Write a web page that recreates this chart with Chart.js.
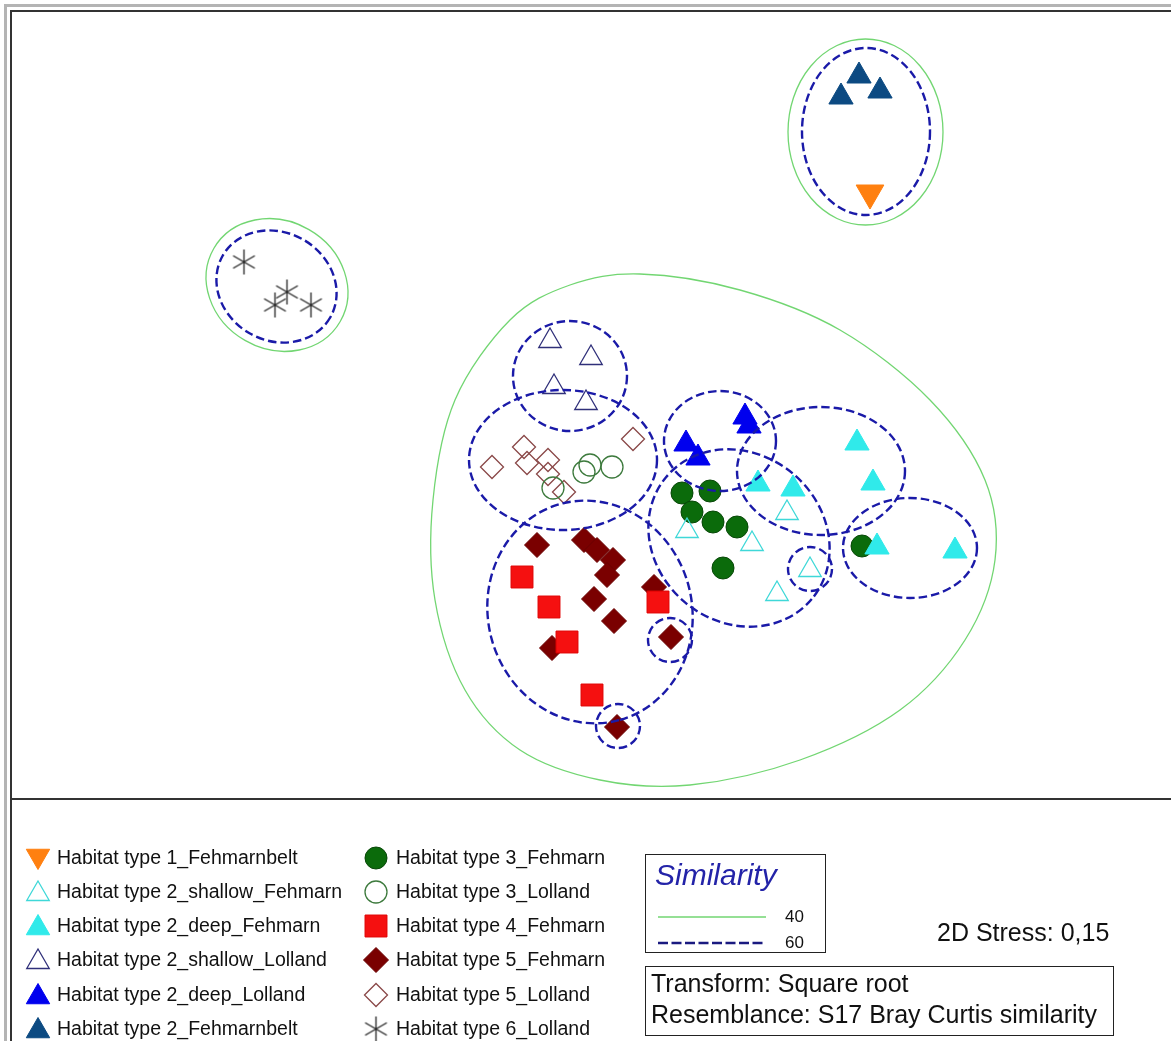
<!DOCTYPE html>
<html>
<head>
<meta charset="utf-8">
<script src="https://cdn.jsdelivr.net/npm/chart.js@4.4.0/dist/chart.umd.min.js"></script>
<style>
  html, body { margin: 0; padding: 0; background: #fff; overflow: hidden; }
  canvas { display: block; }
</style>
</head>
<body>
<canvas id="mds" width="1171" height="1041"></canvas>
<script>
// nMDS ordination of benthic samples (two MDS dimensions, unitless)
const ht1Fehmarnbelt = [[2.70, 2.57]];
const ht2ShallowFehmarn = [[0.87, -0.81], [1.52, -0.94], [1.87, -0.63], [2.10, -1.20], [1.77, -1.44]];
const ht2DeepFehmarn = [[1.58, -0.34], [1.93, -0.39], [2.57, 0.07], [2.73, -0.33], [2.77, -0.97], [3.55, -1.01]];
const ht2ShallowLolland = [[-0.50, 1.09], [-0.09, 0.92], [-0.46, 0.63], [-0.14, 0.47]];
const ht2DeepLolland = [[0.86, 0.06], [0.98, -0.08], [1.45, 0.33], [1.49, 0.24]];
const ht2Fehmarnbelt = [[2.59, 3.74], [2.41, 3.53], [2.80, 3.59]];
const ht3Fehmarn = [[0.82, -0.43], [1.10, -0.41], [0.92, -0.62], [1.13, -0.72], [1.37, -0.77], [1.23, -1.18], [2.62, -0.96]];
const ht3Lolland = [[-0.47, -0.38], [-0.16, -0.22], [-0.10, -0.15], [0.12, -0.17]];
const ht4Fehmarn = [[-0.78, -1.27], [-0.51, -1.57], [-0.33, -1.92], [0.58, -1.52], [-0.08, -2.45]];
const ht5Fehmarn = [[-0.63, -0.95], [-0.16, -0.90], [-0.03, -1.00], [0.13, -1.10], [0.07, -1.25], [-0.06, -1.49],
                    [0.14, -1.71], [0.54, -1.37], [-0.48, -1.98], [0.71, -1.87], [0.17, -2.77]];
const ht5Lolland = [[-1.08, -0.17], [-0.76, 0.03], [-0.73, -0.13], [-0.52, -0.10], [-0.52, -0.24], [-0.36, -0.42], [0.33, 0.11]];
const ht6Lolland = [[-3.56, 1.88], [-3.13, 1.58], [-3.25, 1.45], [-2.89, 1.45]];

// Cluster similarity contours: 60 % groups (dashed) as ellipses [x, y, rx, ry, rotationDeg]
const contours60 = [
  [2.66, 3.185, 0.64, 0.835, 0],
  [-3.235, 1.635, 0.62, 0.54, 30],
  [-0.30, 0.74, 0.57, 0.55, 0],
  [-0.37, -0.10, 0.94, 0.70, 0],
  [1.20, 0.09, 0.56, 0.50, 0],
  [1.39, -0.88, 0.95, 0.84, 40],
  [2.21, -0.21, 0.84, 0.64, 0],
  [3.10, -0.98, 0.67, 0.50, 0],
  [2.10, -1.19, 0.22, 0.22, 0],
  [-0.10, -1.62, 1.12, 1.02, 75],
  [0.70, -1.90, 0.22, 0.22, 0],
  [0.18, -2.76, 0.22, 0.22, 0]
];
// 40 % groups (solid): two ellipses and one outline traced through its vertices
const contours40 = [
  [2.655, 3.18, 0.775, 0.93, 0],
  [-3.23, 1.65, 0.73, 0.64, 30]
];
const outline40 = [[0.40, 1.76], [1.40, 1.60], [2.40, 1.20], [3.30, 0.50], [3.85, -0.30], [3.95, -1.10], [3.65, -1.90],
                   [3.00, -2.60], [2.00, -3.10], [0.90, -3.35], [0.00, -3.30], [-0.80, -3.00], [-1.35, -2.40],
                   [-1.65, -1.50], [-1.67, -0.50], [-1.45, 0.50], [-0.90, 1.30], [-0.30, 1.65]];

const legendLeft = ['Habitat type 1_Fehmarnbelt', 'Habitat type 2_shallow_Fehmarn', 'Habitat type 2_deep_Fehmarn',
                    'Habitat type 2_shallow_Lolland', 'Habitat type 2_deep_Lolland', 'Habitat type 2_Fehmarnbelt'];
const legendRight = ['Habitat type 3_Fehmarn', 'Habitat type 3_Lolland', 'Habitat type 4_Fehmarn',
                     'Habitat type 5_Fehmarn', 'Habitat type 5_Lolland', 'Habitat type 6_Lolland'];

// six-armed asterisk marker
function makeAsterisk(size, color) {
  const c = document.createElement('canvas');
  c.width = size; c.height = size;
  const g = c.getContext('2d');
  g.strokeStyle = color; g.lineWidth = 1.3;
  const r = size / 2 - 1;
  for (const a of [90, 30, 150]) {
    const t = a * Math.PI / 180;
    g.beginPath();
    g.moveTo(size / 2 - r * Math.cos(t), size / 2 - r * Math.sin(t));
    g.lineTo(size / 2 + r * Math.cos(t), size / 2 + r * Math.sin(t));
    g.stroke();
  }
  return c;
}
const asterisk = makeAsterisk(27, '#222222');

const toXY = arr => arr.map(p => ({ x: p[0], y: p[1] }));

function ds(label, data, style, fill, stroke, radius, width, rotation) {
  return {
    label, data: toXY(data), pointStyle: style,
    backgroundColor: fill, borderColor: stroke,
    pointRadius: radius, pointBorderWidth: width, rotation: rotation || 0,
    showLine: false
  };
}

const datasets = [
  ds(legendLeft[0], ht1Fehmarnbelt, 'triangle', '#ff8010', '#ff8010', 16, 1, 180),
  ds(legendLeft[1], ht2ShallowFehmarn, 'triangle', 'rgba(0,0,0,0)', '#3fd8d8', 13, 1.3),
  ds(legendLeft[2], ht2DeepFehmarn, 'triangle', '#30eaea', '#30eaea', 14, 1),
  ds(legendLeft[3], ht2ShallowLolland, 'triangle', 'rgba(0,0,0,0)', '#30307a', 13, 1.3),
  ds(legendLeft[4], ht2DeepLolland, 'triangle', '#0000ee', '#0000ee', 14, 1),
  ds(legendLeft[5], ht2Fehmarnbelt, 'triangle', '#0c4a82', '#0c4a82', 14, 1),
  ds(legendRight[0], ht3Fehmarn, 'circle', '#0b6b0b', '#084808', 11, 1),
  ds(legendRight[1], ht3Lolland, 'circle', 'rgba(0,0,0,0)', '#3d7a3d', 11, 1.3),
  ds(legendRight[2], ht4Fehmarn, 'rect', '#f51010', '#e00000', 15.5, 1),
  ds(legendRight[3], ht5Fehmarn, 'rectRot', '#7a0000', '#6a0000', 12.5, 1),
  ds(legendRight[4], ht5Lolland, 'rectRot', 'rgba(0,0,0,0)', '#8a4848', 11.5, 1.3),
  ds(legendRight[5], ht6Lolland, asterisk, '#222222', '#222222', 13, 1)
];

const FONT = '"Liberation Sans", Arial, sans-serif';

function ellipsePath(ctx, xs, ys, e) {
  const cx = xs.getPixelForValue(e[0]), cy = ys.getPixelForValue(e[1]);
  const rx = Math.abs(xs.getPixelForValue(e[0] + e[2]) - cx);
  const ry = Math.abs(ys.getPixelForValue(e[1] + e[3]) - cy);
  ctx.beginPath();
  ctx.ellipse(cx, cy, rx, ry, e[4] * Math.PI / 180, 0, Math.PI * 2);
}

function closedSpline(ctx, pts) {
  const n = pts.length;
  ctx.beginPath();
  ctx.moveTo(pts[0][0], pts[0][1]);
  for (let i = 0; i < n; i++) {
    const p0 = pts[(i - 1 + n) % n], p1 = pts[i], p2 = pts[(i + 1) % n], p3 = pts[(i + 2) % n];
    ctx.bezierCurveTo(p1[0] + (p2[0] - p0[0]) / 6, p1[1] + (p2[1] - p0[1]) / 6,
                      p2[0] - (p3[0] - p1[0]) / 6, p2[1] - (p3[1] - p1[1]) / 6,
                      p2[0], p2[1]);
  }
  ctx.closePath();
}

const contourPlugin = {
  id: 'contours',
  beforeDraw(chart) {
    const ctx = chart.ctx;
    ctx.save();
    ctx.fillStyle = '#ffffff';
    ctx.fillRect(0, 0, chart.width, chart.height);
    ctx.restore();
  },
  afterDatasetsDraw(chart) {
    const ctx = chart.ctx, xs = chart.scales.x, ys = chart.scales.y;
    const a = chart.chartArea;
    ctx.save();
    ctx.beginPath();
    ctx.rect(a.left, a.top, a.right - a.left, a.bottom - a.top);
    ctx.clip();
    // 40 % similarity
    ctx.strokeStyle = '#72d672';
    ctx.lineWidth = 1.3;
    ctx.setLineDash([]);
    contours40.forEach(e => { ellipsePath(ctx, xs, ys, e); ctx.stroke(); });
    closedSpline(ctx, outline40.map(p => [xs.getPixelForValue(p[0]), ys.getPixelForValue(p[1])]));
    ctx.stroke();
    // 60 % similarity
    ctx.strokeStyle = '#1a1aa8';
    ctx.lineWidth = 2.4;
    ctx.setLineDash([8.5, 4]);
    contours60.forEach(e => { ellipsePath(ctx, xs, ys, e); ctx.stroke(); });
    ctx.restore();
  },
  afterDraw(chart) {
    const ctx = chart.ctx;
    const W = chart.width, H = chart.height;
    ctx.save();
    // frame
    ctx.setLineDash([]);
    ctx.strokeStyle = '#b4b4b4';
    ctx.lineWidth = 3;
    ctx.beginPath();
    ctx.moveTo(5.5, H); ctx.lineTo(5.5, 5.5); ctx.lineTo(W, 5.5);
    ctx.stroke();
    ctx.strokeStyle = '#333333';
    ctx.lineWidth = 2;
    ctx.beginPath();
    ctx.moveTo(11, H); ctx.lineTo(11, 11); ctx.lineTo(W, 11);
    ctx.moveTo(11, 799); ctx.lineTo(W, 799);
    ctx.stroke();

    // marker legend
    const rowsY = [858, 892, 926, 960, 995, 1029];
    const drawEntry = (dsIdx, mx, tx, y) => {
      const d = chart.data.datasets[dsIdx];
      ctx.save();
      ctx.fillStyle = d.backgroundColor;
      ctx.strokeStyle = d.borderColor;
      ctx.lineWidth = d.pointBorderWidth;
      let r = d.pointRadius;
      if (d.pointStyle === 'triangle') r = Math.min(r, 13.5);
      Chart.helpers.drawPoint(ctx, {
        pointStyle: d.pointStyle, rotation: d.rotation, radius: r, borderWidth: d.pointBorderWidth
      }, mx, y + (d.pointStyle === 'triangle' ? (d.rotation ? -2 : 2) : 0));
      ctx.restore();
      ctx.fillStyle = '#111111';
      ctx.font = '19.5px ' + FONT;
      ctx.textBaseline = 'middle';
      ctx.textAlign = 'left';
      ctx.fillText(d.label, tx, y + 1);
    };
    for (let i = 0; i < 6; i++) {
      drawEntry(i, 38, 57, rowsY[i]);
      drawEntry(i + 6, 376, 396, rowsY[i]);
    }

    // similarity key
    ctx.strokeStyle = '#222222';
    ctx.lineWidth = 1;
    ctx.strokeRect(645.5, 854.5, 180, 98);
    ctx.fillStyle = '#2323a8';
    ctx.font = 'italic 30px ' + FONT;
    ctx.textBaseline = 'alphabetic';
    ctx.fillText('Similarity', 655, 885);
    ctx.strokeStyle = '#72d672';
    ctx.lineWidth = 1.5;
    ctx.beginPath(); ctx.moveTo(658, 917); ctx.lineTo(766, 917); ctx.stroke();
    ctx.strokeStyle = '#1a1a80';
    ctx.lineWidth = 2.5;
    ctx.setLineDash([10, 3.5]);
    ctx.beginPath(); ctx.moveTo(658, 943); ctx.lineTo(766, 943); ctx.stroke();
    ctx.setLineDash([]);
    ctx.fillStyle = '#111111';
    ctx.font = '17px ' + FONT;
    ctx.textBaseline = 'middle';
    ctx.fillText('40', 785, 917);
    ctx.fillText('60', 785, 943);

    ctx.font = '25px ' + FONT;
    ctx.fillText('2D Stress: 0,15', 937, 934);

    ctx.strokeStyle = '#222222';
    ctx.lineWidth = 1;
    ctx.strokeRect(645.5, 966.5, 468, 69);
    ctx.font = '25px ' + FONT;
    ctx.fillText('Transform: Square root', 651, 985);
    ctx.fillText('Resemblance: S17 Bray Curtis similarity', 651, 1016);
    ctx.restore();
  }
};

new Chart(document.getElementById('mds'), {
  type: 'scatter',
  data: { datasets },
  options: {
    responsive: false,
    animation: false,
    events: [],
    layout: { autoPadding: false, padding: { left: 11, top: 11, right: 0, bottom: 242 } },
    scales: {
      x: { type: 'linear', display: false, min: -5.89, max: 5.71 },
      y: { type: 'linear', display: false, min: -3.49, max: 4.39 }
    },
    plugins: { legend: { display: false }, tooltip: { enabled: false } }
  },
  plugins: [contourPlugin]
});
</script>
</body>
</html>
